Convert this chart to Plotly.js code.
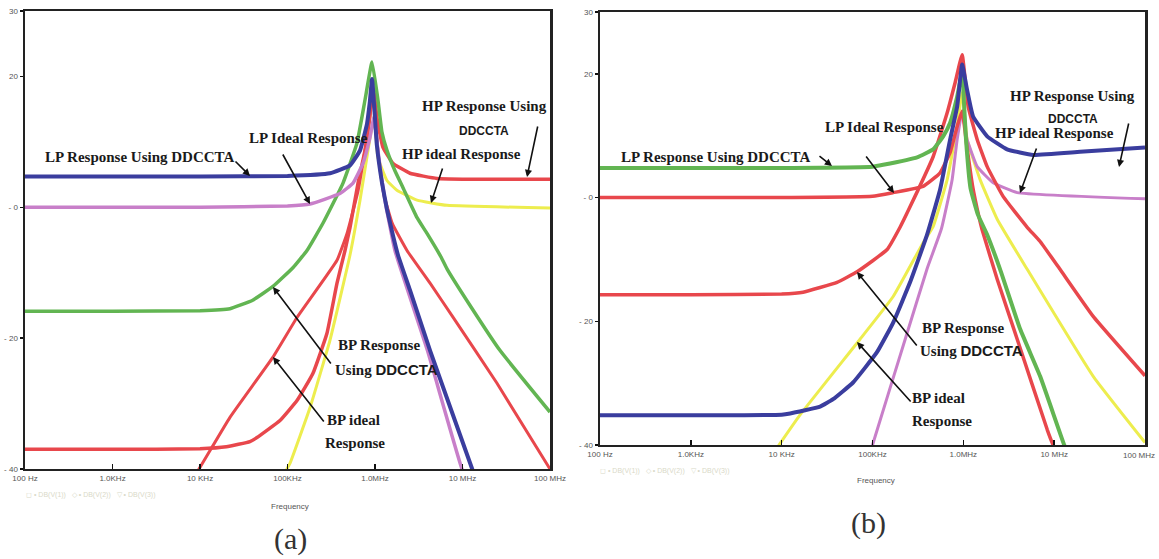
<!DOCTYPE html>
<html><head><meta charset="utf-8">
<script src="https://cdn.plot.ly/plotly-3.0.1.min.js"></script>
<style>html,body{margin:0;padding:0;background:#fff}#chart{width:1159px;height:559px}</style>
</head><body><div id="chart"></div>
<script>
// ---------- tick labels ----------
const freqTicks = [1e2, 1e3, 1e4, 1e5, 1e6, 1e7, 1e8];
const freqTickText = ['100 Hz', '1.0KHz', '10 KHz', '100KHz', '1.0MHz', '10 MHz', '100 MHz'];
const dbTicks = [30, 20, 0, -20, -40];
const dbTickText = ['30', '20', '- 0', '- 20', '- 40'];

// ---------- panel (a) ----------
// LP response using DDCCTA (blue)
const aLPdF  = [100, 1e3, 1e4, 1e5, 3.06e5, 5.18e5, 6.75e5, 8.11e5, 8.71e5, 9.25e5, 9.89e5, 1.05e6, 1.20e6, 1.37e6, 1.61e6, 1.83e6, 2.5e6, 4.26e6, 1.29e7, 2.0e7];
const aLPdDB = [4.7, 4.7, 4.7, 4.8, 5.2, 6.4, 8.7, 12.8, 16.0, 19.6, 14.5, 9.5, 3.8, -0.3, -4.4, -7.3, -12.6, -21.9, -40, -47.5];
// LP ideal response (magenta)
const aLPiF  = [100, 1e3, 1e4, 1e5, 1.81e5, 3.98e5, 5.61e5, 7.29e5, 8.77e5, 9.75e5, 1.08e6, 1.30e6, 1.69e6, 3.98e6, 9.87e6, 1.58e7];
const aLPiDB = [0, 0, 0, 0.2, 0.5, 2.1, 3.7, 6.7, 10.7, 13.8, 8.7, 1.1, -6.6, -21.9, -40, -46];
// BP response using DDCCTA (green)
const aBPdF  = [100, 1e3, 1e4, 2.2e4, 4.0e4, 6.82e4, 1.16e5, 1.67e5, 2.55e5, 4.31e5, 6.22e5, 7.69e5, 9.25e5, 1.08e6, 1.20e6, 1.37e6, 1.70e6, 2.09e6, 3.0e6, 3.93e6, 5.68e6, 6.65e6, 1.22e7, 2.69e7, 1e8];
const aBPdDB = [-15.9, -15.9, -15.8, -15.5, -14.2, -12.1, -9.2, -6.6, -2.4, 3.7, 9.8, 16.4, 22.2, 16.4, 11.5, 8.7, 5.5, 3.0, -1.5, -4.0, -7.6, -9.4, -15.0, -21.9, -31.3];
// BP ideal response (red)
const aBPiF  = [7.94e3, 9.75e3, 2.2e4, 6.82e4, 1.29e5, 3.68e5, 4.79e5, 6.40e5, 7.69e5, 8.71e5, 9.25e5, 9.55e5, 1.0e6, 1.10e6, 1.26e6, 1.58e6, 2.32e6, 4.26e6, 7.78e6, 2.48e7, 1e8];
const aBPiDB = [-41.8, -40, -32.1, -22.9, -16.8, -8.1, -4.0, 2.5, 8.7, 13.5, 16.5, 17.0, 14.0, 7.5, 2.0, -2.5, -6.6, -11.6, -16.8, -26.9, -40];
// HP response using DDCCTA (red)
const aHPdF  = [100, 1e3, 1e4, 2.0e4, 3.72e4, 4.48e4, 8.2e4, 1.29e5, 1.95e5, 2.82e5, 3.68e5, 4.54e5, 5.18e5, 6.40e5, 7.69e5, 8.71e5, 9.25e5, 9.89e5, 1.05e6, 1.23e6, 1.61e6, 2.51e6, 5.12e6, 1e7, 1e8];
const aHPdDB = [-37, -37, -36.9, -36.6, -35.8, -35.2, -32.6, -29.5, -25.4, -19.3, -11.6, -6.6, -3.1, 3.7, 8.7, 14.0, 19.0, 17.0, 13.8, 9.2, 6.7, 5.2, 4.4, 4.3, 4.3];
// HP ideal response (yellow)
const aHPiF  = [7.94e4, 9.86e4, 1.07e5, 1.81e5, 3.06e5, 5.18e5, 6.75e5, 8.32e5, 9.75e5, 1.08e6, 1.37e6, 1.78e6, 3.02e6, 6.65e6, 1e8];
const aHPiDB = [-44, -40, -39.1, -30.6, -20.3, -7.3, 1.1, 8.7, 14.0, 7.6, 4.1, 2.6, 1.1, 0.3, -0.1];

// ---------- panel (b) ----------
// LP response using DDCCTA (green)
const bLPdF  = [100, 1e3, 1e4, 1e5, 1.31e5, 3.10e5, 4.65e5, 6.0e5, 7.16e5, 8.55e5, 9.70e5, 1.02e6, 1.07e6, 1.20e6, 1.45e6, 1.83e6, 2.54e6, 4.23e6, 7.01e6, 1.29e7, 2.0e7];
const bLPdDB = [4.8, 4.8, 4.8, 5.0, 5.3, 6.5, 7.8, 9.9, 12.1, 16.3, 20.2, 15.0, 9.4, 1.5, -2.8, -6.0, -11.6, -21.3, -28.9, -40, -47];
// LP ideal response (red)
const bLPiF  = [100, 1e3, 1e4, 1e5, 1.69e5, 3.61e5, 5.55e5, 7.16e5, 8.55e5, 9.70e5, 1.10e6, 1.26e6, 1.48e6, 1.61e6, 2.36e6, 3.92e6, 8.38e6, 9.75e6, 1.58e7];
const bLPiDB = [0, 0, 0, 0.2, 0.8, 1.8, 4.0, 7.3, 11.5, 14.0, 8.0, 2.0, -3.0, -5.2, -13.2, -22.9, -37.5, -40, -46];
// BP response using DDCCTA (red)
const bBPdF  = [100, 1e3, 1e4, 1.72e4, 4.07e4, 6.76e4, 1.45e5, 2.01e5, 2.59e5, 4.65e5, 6.64e5, 8.13e5, 9.70e5, 1.13e6, 1.42e6, 1.83e6, 2.74e6, 5.05e6, 7.01e6, 1.16e7, 2.69e7, 1e8];
const bBPdDB = [-15.7, -15.7, -15.6, -15.3, -13.7, -12.0, -8.4, -4.8, -1.5, 6.6, 13.7, 18.6, 23.1, 14.7, 9.4, 5.0, 0.2, -4.8, -7.1, -11.6, -19.2, -28.8];
// BP ideal response (yellow)
const bBPiF  = [7.94e3, 9.35e3, 1.60e4, 7.29e4, 1.69e5, 3.61e5, 4.65e5, 6.64e5, 8.55e5, 9.70e5, 1.10e6, 1.53e6, 2.36e6, 5.05e6, 2.69e7, 1e8];
const bBPiDB = [-41.5, -40, -35.1, -22.9, -16.0, -7.3, -4.7, 2.9, 11.5, 17.0, 9.4, 2.9, -3.5, -11.6, -28.9, -39.6];
// HP response using DDCCTA (blue)
const bHPdF  = [100, 1e3, 1e4, 1.24e4, 2.65e4, 3.68e4, 6.11e4, 1.12e5, 1.69e5, 2.59e5, 3.99e5, 5.55e5, 7.16e5, 8.55e5, 9.70e5, 1.10e6, 1.28e6, 1.83e6, 3.03e6, 5.87e6, 1.93e7, 1e8];
const bHPdDB = [-35.2, -35.2, -35.1, -34.9, -33.8, -32.6, -29.9, -25.0, -20.2, -13.7, -6.0, 1.3, 9.4, 14.7, 21.5, 17.4, 13.1, 9.9, 7.8, 6.9, 7.4, 8.1];
// HP ideal response (magenta)
const bHPiF  = [7.94e4, 1.02e5, 2.29e5, 3.99e5, 5.75e5, 7.53e5, 8.55e5, 9.70e5, 1.10e6, 1.42e6, 2.13e6, 3.92e6, 1e8];
const bHPiDB = [-45, -39.6, -22.9, -11.5, -5.0, 2.9, 9.4, 13.9, 9.4, 5.0, 2.4, 0.8, -0.2];

// ---------- styling ----------
const C = {blue:'#3a3d9e', magenta:'#c87fc9', green:'#62b552', red:'#e8474c', yellow:'#eded4e'};
function tr(x, y, color, width, xa, ya) {
  return {x:x, y:y, xaxis:xa, yaxis:ya, mode:'lines', type:'scatter', hoverinfo:'skip',
          line:{color:color, width:width, shape:'spline', smoothing:0.35}};
}
const data = [
  tr(aHPiF, aHPiDB, C.yellow, 3, 'x', 'y'),
  tr(aBPiF, aBPiDB, C.red, 3, 'x', 'y'),
  tr(aHPdF, aHPdDB, C.red, 3.5, 'x', 'y'),
  tr(aBPdF, aBPdDB, C.green, 3.5, 'x', 'y'),
  tr(aLPiF, aLPiDB, C.magenta, 3.5, 'x', 'y'),
  tr(aLPdF, aLPdDB, C.blue, 4, 'x', 'y'),

  tr(bBPiF, bBPiDB, C.yellow, 3, 'x2', 'y2'),
  tr(bHPiF, bHPiDB, C.magenta, 3, 'x2', 'y2'),
  tr(bLPiF, bLPiDB, C.red, 3.5, 'x2', 'y2'),
  tr(bBPdF, bBPdDB, C.red, 3.5, 'x2', 'y2'),
  tr(bLPdF, bLPdDB, C.green, 4, 'x2', 'y2'),
  tr(bHPdF, bHPdDB, C.blue, 4, 'x2', 'y2')
];

const W = 1159, H = 559;
const px = v => v / W, py = v => 1 - v / H;
const TICKFONT = {family:'Liberation Sans', size:8, color:'#555'};

function xax(d, texts) {
  return {type:'log', range:[2, 8], domain:d, tickvals:freqTicks, ticktext:texts,
          ticks:'inside', ticklen:5, tickwidth:1.5, tickcolor:'#111',
          showline:true, linewidth:2, linecolor:'#222', mirror:true,
          showgrid:false, zeroline:false, fixedrange:true,
          tickfont:TICKFONT};
}
function yax(d) {
  return {range:[-40, 30], domain:d, tickvals:dbTicks, ticktext:dbTickText,
          ticks:'outside', ticklen:3, tickwidth:1.5, tickcolor:'#111',
          showline:true, linewidth:2.5, linecolor:'#222', mirror:true,
          showgrid:false, zeroline:false, fixedrange:true,
          tickfont:TICKFONT};
}
// right panel: last tick label is placed as a right-aligned text so it stays inside the page
const freqTickText2 = freqTickText.slice(0, 6).concat(['']);

const SERIF = 'Liberation Serif', SANS = 'Liberation Sans';
function label(text, x, y, opts) {
  opts = opts || {};
  return {xref:'paper', yref:'paper', x:px(x), y:py(y), text:text, showarrow:false,
          xanchor:opts.anchor || 'left', yanchor:'middle',
          font:{family:opts.family || SERIF, size:opts.size || 15, color:opts.color || '#1a1a1a'}};
}
function arrow(hx, hy, tx, ty) {
  return {xref:'paper', yref:'paper', x:px(hx), y:py(hy), ax:tx - hx, ay:ty - hy, text:'',
          showarrow:true, arrowhead:2, arrowsize:0.9, arrowwidth:1.6, arrowcolor:'#111'};
}
const DD = "<span style='font-family:Liberation Sans'>DDCCTA</span>";

const annotations = [
  // panel (a)
  label('<b>LP Response Using DDCCTA</b>', 43, 157),
  label('<b>LP Ideal Response</b>', 247, 138),
  label('<b>HP Response Using</b>', 420, 106),
  label('<b>DDCCTA</b>', 484, 131, {family:SANS, size:12, anchor:'center'}),
  label('<b>HP ideal Response</b>', 400, 154),
  label('<b>BP Response</b>', 336, 345),
  label('<b>Using ' + DD + '</b>', 333, 369),
  label('<b>BP ideal</b>', 325, 420),
  label('<b>Response</b>', 323, 443),
  arrow(250, 176, 234, 160),
  arrow(310, 204, 282, 153),
  arrow(527, 177, 538, 125),
  arrow(431, 203, 443, 167),
  arrow(273, 287, 332, 365),
  arrow(273, 357, 325, 423),
  label('Frequency', 290, 507, {family:SANS, size:8, color:'#555', anchor:'center'}),
  label('◻ • DB(V(1))   ◇ • DB(V(2))   ▽ • DB(V(3))', 24, 495, {family:SANS, size:7, color:'#d9d9c8'}),
  label('(a)', 290, 539, {size:30, color:'#333', anchor:'center'}),
  // panel (b)
  label('<b>LP Response Using DDCCTA</b>', 619, 157),
  label('<b>LP Ideal Response</b>', 823, 127),
  label('<b>HP Response Using</b>', 1008, 96),
  label('<b>DDCCTA</b>', 1073, 119, {family:SANS, size:12, anchor:'center'}),
  label('<b>HP ideal Response</b>', 993, 133),
  label('<b>BP Response</b>', 920, 328),
  label('<b>Using ' + DD + '</b>', 918, 350),
  label('<b>BP ideal</b>', 910, 398),
  label('<b>Response</b>', 910, 421),
  arrow(832, 166, 818, 155),
  arrow(894, 193, 865, 155),
  arrow(1119, 167, 1129, 122),
  arrow(1020, 193, 1037, 147),
  arrow(857, 272, 918, 347),
  arrow(857, 342, 912, 403),
  label(freqTickText[6], 1157, 455, {family:TICKFONT.family, size:TICKFONT.size, color:TICKFONT.color, anchor:'right'}),
  label('Frequency', 876, 480, {family:SANS, size:8, color:'#555', anchor:'center'}),
  label('◻ • DB(V(1))   ◇ • DB(V(2))   ▽ • DB(V(3))', 598, 471, {family:SANS, size:7, color:'#d9d9c8'}),
  label('(b)', 868, 523, {size:30, color:'#333', anchor:'center'})
];

const layout = {
  width:W, height:H, margin:{l:0, r:0, t:0, b:0},
  paper_bgcolor:'#ffffff', plot_bgcolor:'#ffffff', showlegend:false,
  xaxis: Object.assign(xax([px(25), px(550)], freqTickText), {anchor:'y'}),
  yaxis: Object.assign(yax([py(469), py(11)]), {anchor:'x'}),
  xaxis2: Object.assign(xax([px(600), px(1145)], freqTickText2), {anchor:'y2'}),
  yaxis2: Object.assign(yax([py(445), py(12)]), {anchor:'x2'}),
  annotations: annotations
};

Plotly.newPlot('chart', data, layout, {displayModeBar:false, staticPlot:true});
</script>
</body></html>
